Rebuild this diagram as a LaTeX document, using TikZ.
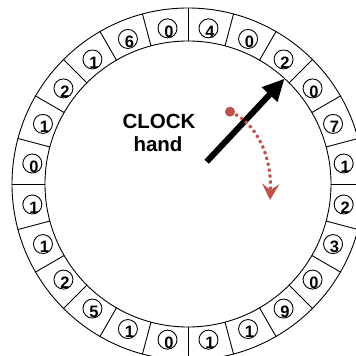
\documentclass[tikz,border=0pt]{standalone}
\usepackage{fontspec}
\setmainfont{Liberation Sans}
\usetikzlibrary{arrows.meta}
\definecolor{dotred}{HTML}{C0504D}
\begin{document}
\begin{tikzpicture}[x=1pt,y=1pt,
  ringline/.style={line width=0.9pt},
  numcirc/.style={circle,draw,line width=0.9pt,minimum size=19pt,inner sep=0pt},
  digit/.style={font=\fontsize{16.5}{16.5}\selectfont\bfseries,inner sep=0pt},
  bigtext/.style={font=\fontsize{20.5}{24}\selectfont\bfseries,anchor=base,inner sep=0pt}]
\useasboundingbox (-188,-172) rectangle (168,184);
\clip (-188,-172) rectangle (168,184);
\fill[white] (-188,-172) rectangle (168,184);
\draw[ringline] (0,0) circle[radius=176];
\draw[ringline] (0,0) circle[radius=143];
\foreach \k in {0,...,23} \draw[ringline] (15*\k:143) -- (15*\k:176);
\foreach \d [count=\i from 0] in {1,7,0,2,0,4,0,6,1,2,1,0,1,1,2,5,1,0,1,1,9,0,3,2} {
  \node[numcirc] (c\i) at (7.5+15*\i:157) {};
  \node[digit,xshift=1.5pt,yshift=-3pt] (d\i) at (7.5+15*\i:157) {\d};
}
\node[bigtext] (clock) at (-29,56) {CLOCK};
\node[bigtext] (hand) at (-30,32) {hand};
\coordinate (handbase) at (18.7,22.3);
\coordinate (handtip) at (47.5:143);
\draw[line width=6pt, -{Triangle[length=22pt,width=20pt]}] (handbase) -- (handtip);
\coordinate (rs) at (42,72.3);
\coordinate (re) at (82,-16);
\fill[dotred] (rs) circle[radius=5];
\draw[dotred, line width=3pt, dash pattern=on 3pt off 3pt, -{Stealth[length=16pt,width=17pt,inset=6pt]}] (rs) .. controls (68,62) and (84,28) .. (re);
\end{tikzpicture}
\end{document}
